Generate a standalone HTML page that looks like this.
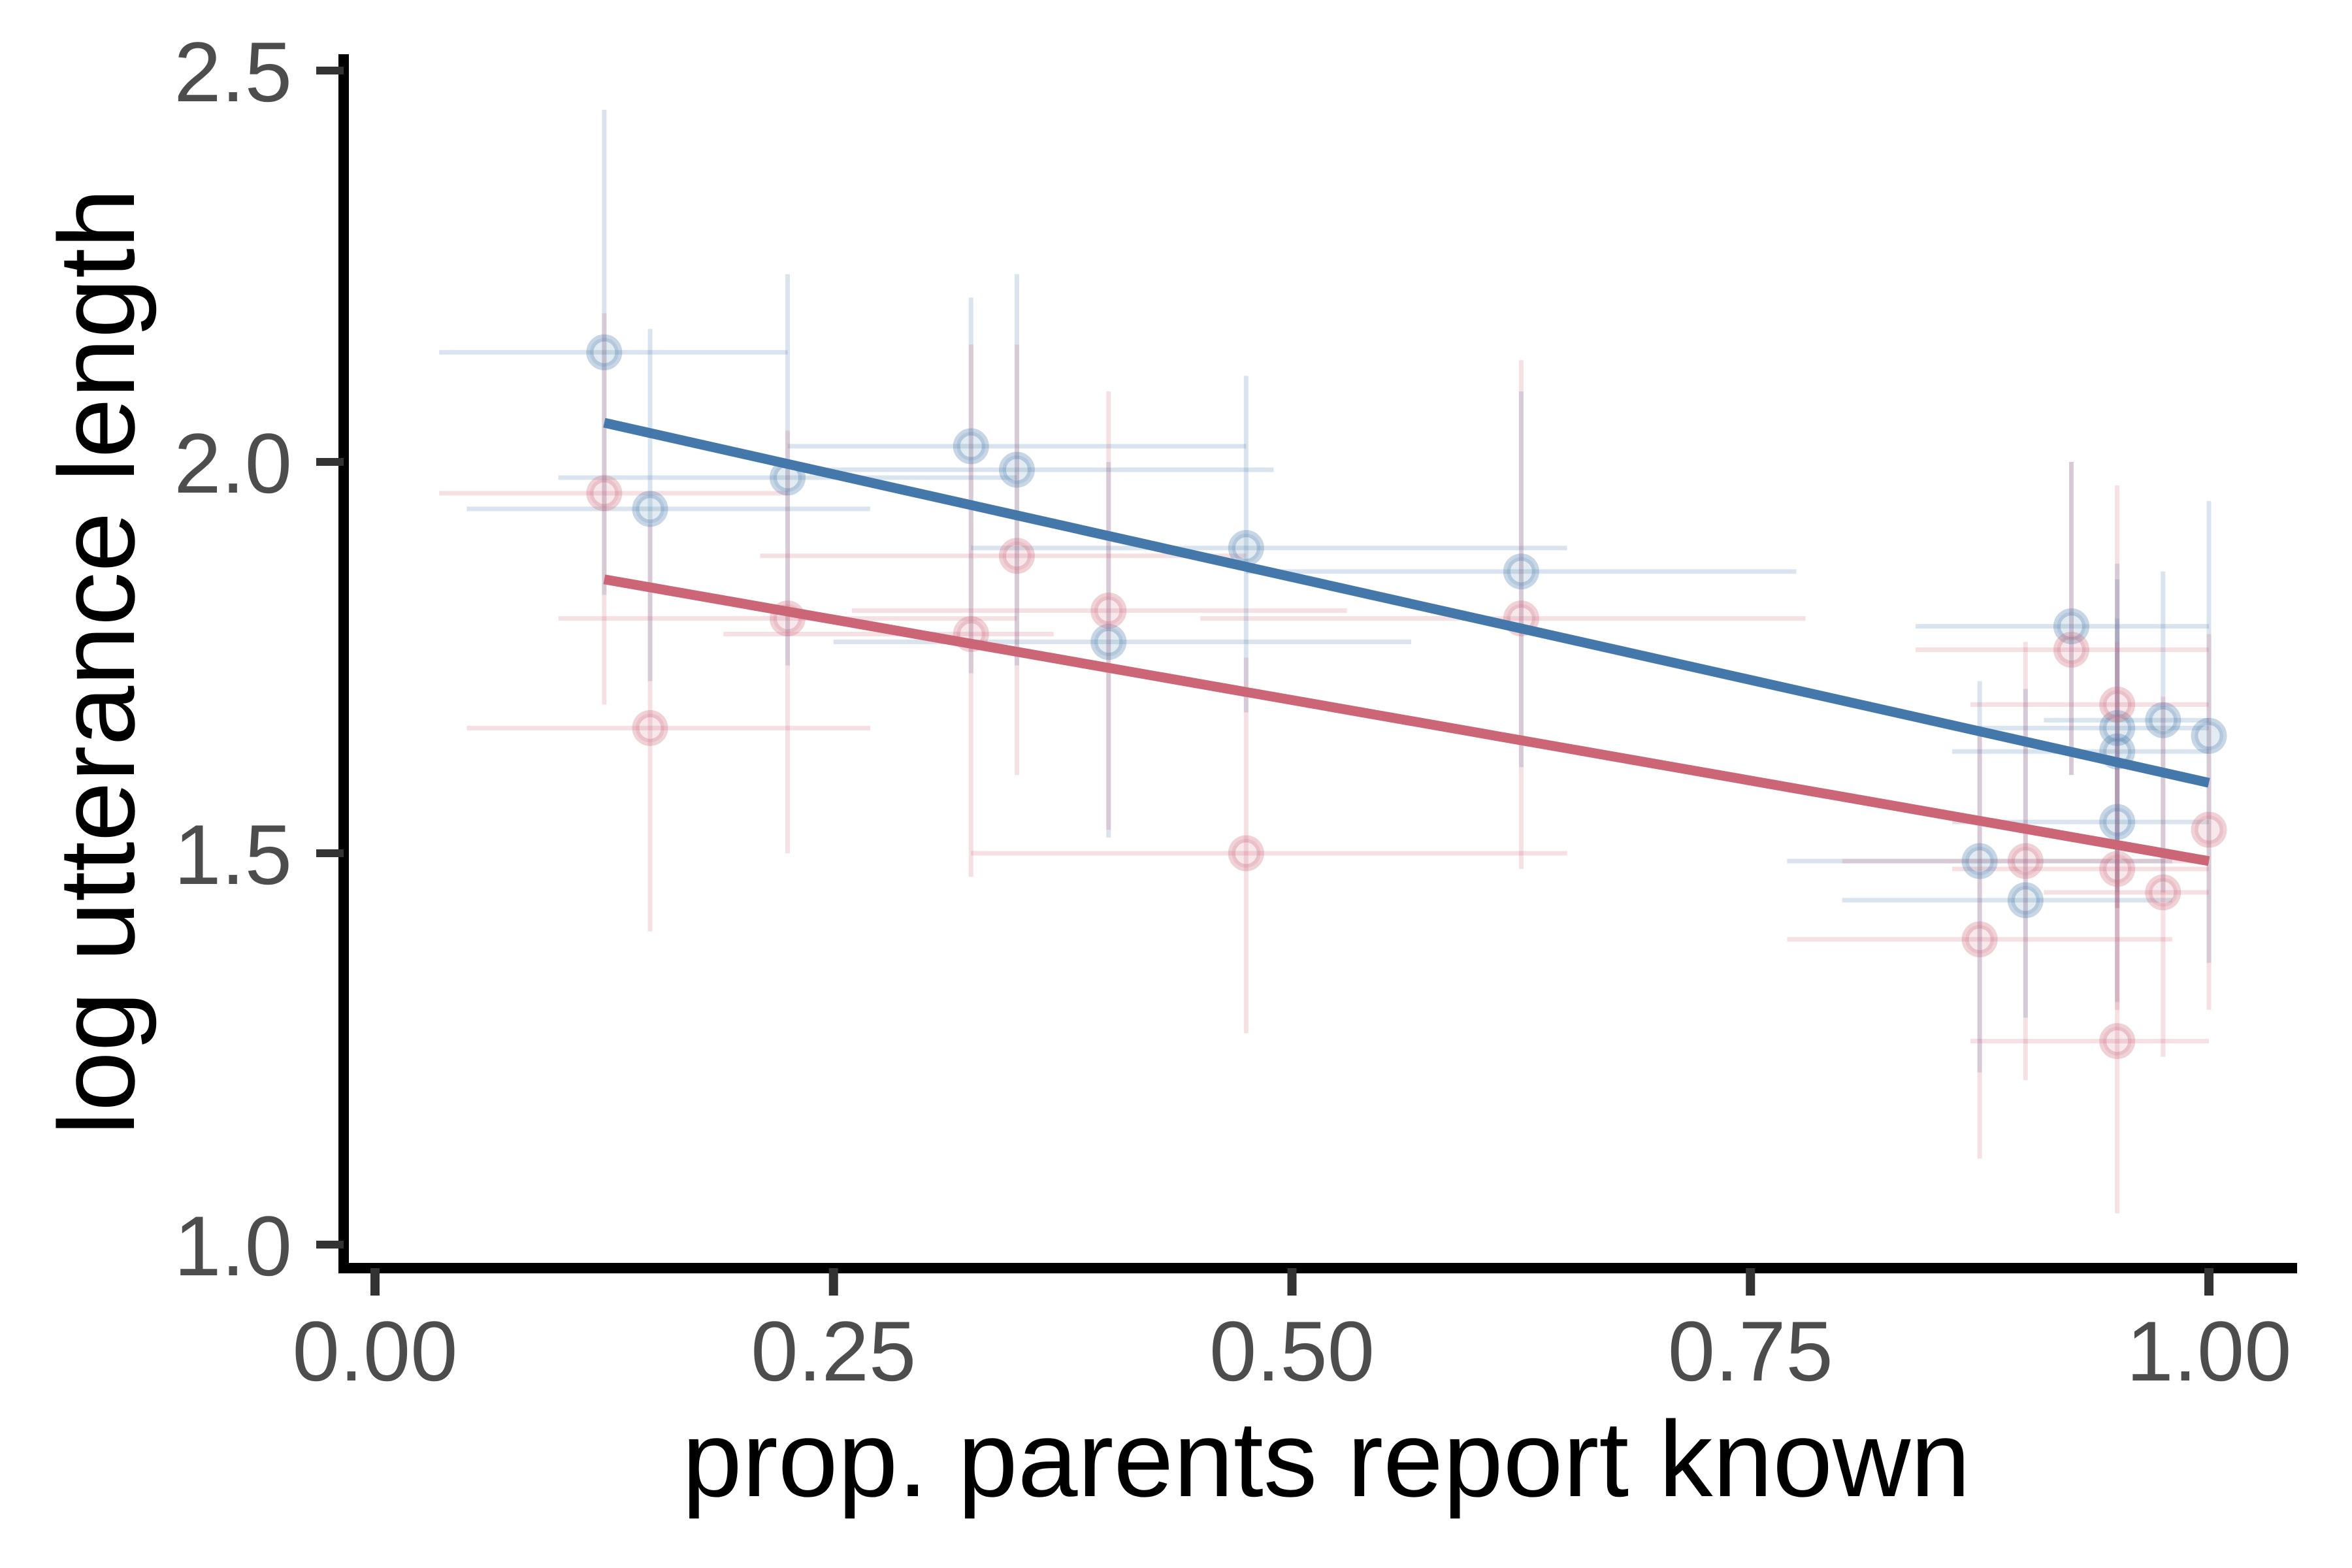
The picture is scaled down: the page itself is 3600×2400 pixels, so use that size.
<!DOCTYPE html>
<html><head><meta charset="utf-8"><style>
html,body{margin:0;padding:0;background:#fff;}
svg{display:block;font-family:"Liberation Sans",Arial,sans-serif;}
</style></head><body>
<svg id="chart" width="3600" height="2400" viewBox="0 0 3600 2400" xmlns="http://www.w3.org/2000/svg">
<rect width="3600" height="2400" fill="#fff"/>
<g id="bars"></g>
<g id="points"></g>
<g id="fits"></g>
<g id="axes"></g>
<text x="205" y="1013" transform="rotate(-90 205 1013)" text-anchor="middle" font-size="165" fill="#000">log utterance length</text>
<text x="2030" y="2290" text-anchor="middle" font-size="165" fill="#000">prop. parents report known</text>
</svg>
<script>
const blueX=[0.125,0.15,0.225,0.325,0.35,0.40,0.475,0.625,0.875,0.90,0.925,0.95,0.95,0.95,0.975,1.0];
const blueY=[2.14,1.94,1.98,2.02,1.99,1.77,1.89,1.86,1.49,1.44,1.79,1.66,1.63,1.54,1.67,1.65];
const blueXlo=[0.035,0.05,0.10,0.225,0.23,0.25,0.325,0.475,0.77,0.80,0.84,0.86,0.86,0.86,0.91,1.0];
const blueXhi=[0.225,0.27,0.35,0.475,0.49,0.565,0.65,0.775,0.98,0.98,1.0,1.0,1.0,1.0,1.0,1.0];
const blueYlo=[1.83,1.72,1.74,1.73,1.74,1.52,1.68,1.61,1.22,1.29,1.60,1.45,1.43,1.31,1.45,1.36];
const blueYhi=[2.45,2.17,2.24,2.21,2.24,2.00,2.11,2.09,1.72,1.71,2.00,1.87,1.85,1.80,1.86,1.95];
const redX=[0.125,0.15,0.225,0.325,0.35,0.40,0.475,0.625,0.875,0.90,0.925,0.95,0.95,0.95,0.975,1.0];
const redY=[1.96,1.66,1.80,1.78,1.88,1.81,1.50,1.80,1.39,1.49,1.76,1.69,1.48,1.26,1.45,1.53];
const redXlo=[0.035,0.05,0.10,0.19,0.21,0.26,0.325,0.45,0.77,0.80,0.84,0.87,0.86,0.87,0.91,1.0];
const redXhi=[0.225,0.27,0.35,0.37,0.475,0.53,0.65,0.78,0.98,1.0,1.0,1.0,1.0,1.0,1.0,1.0];
const redYlo=[1.69,1.40,1.50,1.47,1.60,1.53,1.27,1.48,1.11,1.21,1.60,1.43,1.30,1.04,1.24,1.30];
const redYhi=[2.19,1.92,2.04,2.15,2.15,2.09,1.75,2.13,1.66,1.77,2.00,1.97,1.77,1.50,1.70,1.78];
const fitX=[0.125,1.0];
const blueFit=[2.05,1.59];
const redFit=[1.85,1.49];
const xTicks=[0,0.25,0.5,0.75,1.0];
const xTickLabels=["0.00","0.25","0.50","0.75","1.00"];
const yTicks=[1.0,1.5,2.0,2.5];
const yTickLabels=["1.0","1.5","2.0","2.5"];

const NS="http://www.w3.org/2000/svg";
function sx(v){return 574+v*2807;}
function sy(v){return 1905-(v-1)*1198;}
function mk(tag,attrs,parent){const e=document.createElementNS(NS,tag);for(const k in attrs)e.setAttribute(k,attrs[k]);parent.appendChild(e);return e;}
const bars=document.getElementById('bars'),pts=document.getElementById('points'),fits=document.getElementById('fits'),axes=document.getElementById('axes');
function series(X,Y,Xlo,Xhi,Ylo,Yhi,col,name){
  for(let i=0;i<X.length;i++){
    const h=mk('line',{x1:sx(Xlo[i]),x2:sx(Xhi[i]),y1:sy(Y[i]),y2:sy(Y[i]),stroke:col,'stroke-width':7,'stroke-opacity':0.2},bars);
    
    
    const v=mk('line',{x1:sx(X[i]),x2:sx(X[i]),y1:sy(Ylo[i]),y2:sy(Yhi[i]),stroke:col,'stroke-width':7,'stroke-opacity':0.2},bars);
    
    
    const c=mk('circle',{cx:sx(X[i]),cy:sy(Y[i]),r:22,fill:col,'fill-opacity':0.15,stroke:col,'stroke-width':11,'stroke-opacity':0.3},pts);
    
    
  }
}
series(blueX,blueY,blueXlo,blueXhi,blueYlo,blueYhi,'#4477AA','blue');
series(redX,redY,redXlo,redXhi,redYlo,redYhi,'#CC6677','red');
const lr=mk('line',{x1:sx(fitX[0]),x2:sx(fitX[1]),y1:sy(redFit[0]),y2:sy(redFit[1]),stroke:'#CC6677','stroke-width':15},fits);


const lb=mk('line',{x1:sx(fitX[0]),x2:sx(fitX[1]),y1:sy(blueFit[0]),y2:sy(blueFit[1]),stroke:'#4477AA','stroke-width':15},fits);


const ya=mk('line',{x1:526,x2:526,y1:83,y2:1949,stroke:'#000','stroke-width':16},axes);


const xa=mk('line',{x1:518,x2:3516,y1:1941,y2:1941,stroke:'#000','stroke-width':16},axes);


for(let i=0;i<yTicks.length;i++){
  const t=mk('line',{x1:484,x2:526,y1:sy(yTicks[i]),y2:sy(yTicks[i]),stroke:'#333','stroke-width':12},axes);
  
  
  const l=mk('text',{x:447,y:sy(yTicks[i])+47,'text-anchor':'end','font-size':130,fill:'#4d4d4d'},axes);
  l.textContent=yTickLabels[i];
  
  
}
for(let i=0;i<xTicks.length;i++){
  const t=mk('line',{x1:sx(xTicks[i]),x2:sx(xTicks[i]),y1:1941,y2:1983,stroke:'#333','stroke-width':14},axes);
  
  
  const l=mk('text',{x:sx(xTicks[i]),y:2113,'text-anchor':'middle','font-size':130,fill:'#4d4d4d'},axes);
  l.textContent=xTickLabels[i];
  
  
}
</script>
</body></html>
